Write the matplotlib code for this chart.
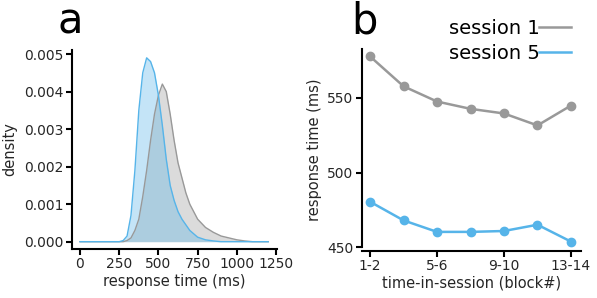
import matplotlib
matplotlib.use("Agg")
import matplotlib.pyplot as plt

# panel a: density of response times
rt_s1 = [0, 275, 300, 325, 350, 375, 400, 425, 450, 475, 500, 525, 550, 575, 600,
         625, 650, 675, 700, 750, 800, 850, 900, 950, 1000, 1050, 1100, 1200]
dens_s1 = [0, 0, 0.00003, 0.0001, 0.0003, 0.0006, 0.0012, 0.0019, 0.0027, 0.0034,
           0.0039, 0.0042, 0.0040, 0.0034, 0.0027, 0.0021, 0.0017, 0.0013, 0.0010,
           0.0006, 0.00038, 0.00025, 0.00015, 0.0001, 0.00005, 0.00002, 0, 0]
rt_s5 = [0, 250, 275, 300, 325, 350, 375, 400, 425, 450, 475, 500, 525, 550, 575,
         600, 625, 650, 700, 750, 800, 850, 900, 1200]
dens_s5 = [0, 0, 0.00003, 0.00015, 0.0007, 0.0019, 0.0035, 0.0045, 0.0049, 0.0048,
           0.0045, 0.0039, 0.0031, 0.0022, 0.0015, 0.0011, 0.0008, 0.0006, 0.0003,
           0.00012, 0.00005, 0.00002, 0, 0]

# panel b: mean response time per block pair
blocks = [0, 1, 2, 3, 4, 5, 6]
block_ticks = [0, 2, 4, 6]
block_labels = ["1-2", "5-6", "9-10", "13-14"]
rt_block_s1 = [577.8, 557.8, 547.6, 542.7, 539.6, 531.6, 544.9]
rt_block_s5 = [480.5, 468.0, 460.3, 460.3, 460.9, 465.1, 453.8]

gray = "#999999"
blue = "#56b4e9"
txt = "#262626"

plt.rcParams["font.family"] = "DejaVu Sans"

fig = plt.figure(figsize=(5.97, 2.98), dpi=100)

def style(ax):
    for s in ["top", "right"]:
        ax.spines[s].set_visible(False)
    for s in ["left", "bottom"]:
        ax.spines[s].set_linewidth(1.5)
        ax.spines[s].set_color("black")
    ax.tick_params(axis="both", length=4, width=1.5, labelsize=10, labelcolor=txt, pad=2)

ax1 = fig.add_axes([0.1206, 0.1644, 0.3434, 0.668])
ax1.fill_between(rt_s1, dens_s1, color=gray, alpha=0.35, lw=0)
ax1.plot(rt_s1, dens_s1, color=gray, lw=1.0)
ax1.fill_between(rt_s5, dens_s5, color=blue, alpha=0.35, lw=0)
ax1.plot(rt_s5, dens_s5, color=blue, lw=1.0)
ax1.set_xlim(-51, 1256)
ax1.set_ylim(-0.000195, 0.00511)
ax1.set_xticks([0, 250, 500, 750, 1000, 1250])
ax1.set_yticks([0, 0.001, 0.002, 0.003, 0.004, 0.005])
ax1.set_yticklabels(["0.000", "0.001", "0.002", "0.003", "0.004", "0.005"])
style(ax1)
ax1.set_xlabel("response time (ms)", fontsize=10.5, color=txt, labelpad=2)
ax1.set_ylabel("density", fontsize=10.5, color=txt, labelpad=5)

ax2 = fig.add_axes([0.6064, 0.1587, 0.3668, 0.678])
ax2.plot(blocks, rt_block_s1, color=gray, lw=1.8, marker="o", ms=6, label="session 1")
ax2.plot(blocks, rt_block_s5, color=blue, lw=1.8, marker="o", ms=6, label="session 5")
ax2.set_xlim(-0.24, 6.3)
ax2.set_ylim(447.7, 583)
ax2.set_xticks(block_ticks)
ax2.set_xticklabels(block_labels)
ax2.set_yticks([450, 500, 550])
style(ax2)
ax2.spines["left"].set_bounds(450, 583)
ax2.set_xlabel("time-in-session (block#)", fontsize=10.5, color=txt, labelpad=2)
ax2.set_ylabel("response time (ms)", fontsize=10.5, color=txt, labelpad=4)

leg = fig.legend(handles=ax2.lines, labels=["session 1", "session 5"],
                 loc="upper right", bbox_to_anchor=(0.985, 0.995), frameon=False,
                 markerfirst=False, fontsize=14, handlelength=1.6, handletextpad=0.0,
                 labelspacing=0.3)
for h in leg.legend_handles:
    h.set_marker("")

fig.text(0.097, 0.889, "a", fontsize=30, va="baseline", ha="left")
fig.text(0.589, 0.889, "b", fontsize=30, va="baseline", ha="left")

fig.savefig("out.png", dpi=100)
